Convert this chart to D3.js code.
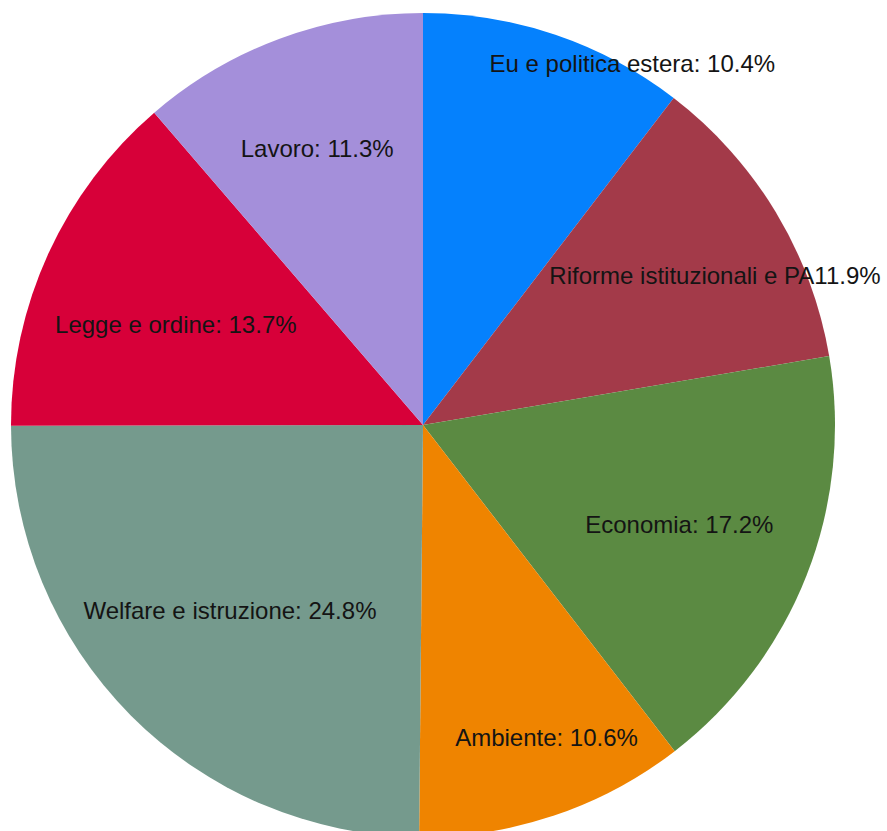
<!DOCTYPE html>
<html>
<head>
<meta charset="utf-8">
<script src="https://cdn.jsdelivr.net/npm/d3@7"></script>
<style>
  html, body { margin: 0; padding: 0; background: #ffffff; }
  svg { display: block; }
</style>
</head>
<body>
<svg id="chart" width="887" height="831"></svg>
<script>
// Topic shares, clockwise from 12 o'clock
const categories = [
  "Eu e politica estera",
  "Riforme istituzionali e PA",
  "Economia",
  "Ambiente",
  "Welfare e istruzione",
  "Legge e ordine",
  "Lavoro"
];
const shares = [10.4, 11.9, 17.2, 10.6, 24.8, 13.7, 11.3];
const separators = [": ", "", ": ", ": ", ": ", ": ", ": "];
const colors = ["#0581fd", "#a33a49", "#5b8a42", "#ef8400", "#759a8d", "#d70039", "#a48fda"];

// Label placement: fraction of the radius and angular nudge (degrees) per slice
const labelRadius = [1.015, 0.796, 0.667, 0.816, 0.65, 0.648, 0.718];
const labelTurn = [11.3, 4.0, -0.2, -3.0, 0.9, -2.4, -0.6];

const width = 887, height = 831;
const cx = 423, cy = 425, R = 412;

const svg = d3.select("#chart");
const g = svg.append("g").attr("transform", `translate(${cx},${cy})`);

const rows = categories.map((c, i) => ({ name: c, value: shares[i], i }));

const pie = d3.pie().sort(null).value(d => d.value);
const arc = d3.arc().innerRadius(0).outerRadius(R);
const color = d3.scaleOrdinal().domain(categories).range(colors);

const arcs = pie(rows);

g.selectAll("path.slice")
  .data(arcs)
  .join("path")
  .attr("class", "slice")
  .attr("d", arc)
  .attr("fill", d => color(d.data.name));

g.selectAll("text.label")
  .data(arcs)
  .join("text")
  .attr("class", "label")
  .attr("transform", d => {
    const a = (d.startAngle + d.endAngle) / 2 + labelTurn[d.data.i] * Math.PI / 180;
    const r = R * labelRadius[d.data.i];
    return `translate(${r * Math.sin(a)},${-r * Math.cos(a)})`;
  })
  .attr("text-anchor", "middle")
  .attr("dy", "0.36em")
  .attr("font-family", "'Liberation Sans', Arial, sans-serif")
  .attr("font-size", 24)
  .attr("fill", "#141414")
  .text(d => `${d.data.name}${separators[d.data.i]}${d.data.value.toFixed(1)}%`);
</script>
</body>
</html>
